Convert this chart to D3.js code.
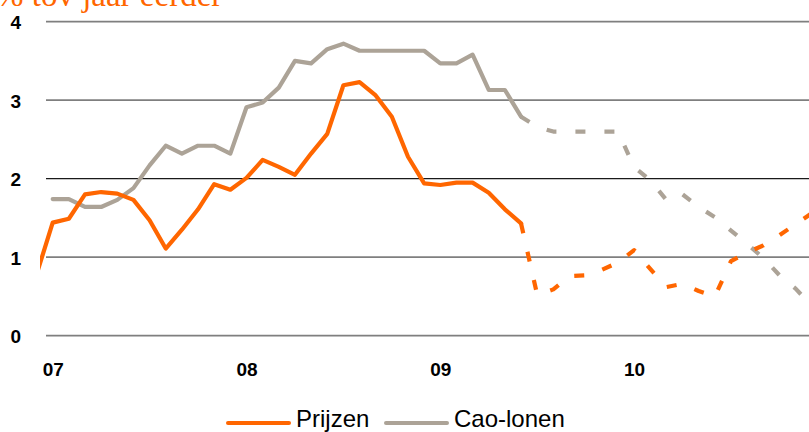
<!DOCTYPE html>
<html>
<head>
<meta charset="utf-8">
<script src="https://cdn.jsdelivr.net/npm/d3@7"></script>
<style>
  html, body { margin: 0; padding: 0; background: #fff; }
  svg { display: block; }
  .tick text { font-family: Arial, "Liberation Sans", sans-serif; font-weight: bold; fill: #000; }
</style>
</head>
<body>
<div id="chart"></div>
<script>
// months from dec 2006 (index 0) to dec 2010 (index 48)
var yearLabels = ['07', '08', '09', '10'];
var yearIndex = [1, 13, 25, 37];
var yTicks = [0, 1, 2, 3, 4];

// realisatie, dec 2006 t/m jun 2009
var prijzen = [0.78, 1.44, 1.49, 1.80, 1.83, 1.81, 1.73, 1.47, 1.11, 1.35, 1.61, 1.93, 1.86,
  2.01, 2.24, 2.15, 2.05, 2.32, 2.57, 3.19, 3.23, 3.06, 2.79, 2.28, 1.94,
  1.92, 1.95, 1.95, 1.82, 1.61, 1.43];
var caoLonen = [null, 1.74, 1.74, 1.64, 1.64, 1.73, 1.88, 2.17, 2.42, 2.32, 2.42, 2.42, 2.32,
  2.91, 2.97, 3.16, 3.50, 3.47, 3.65, 3.72, 3.63, 3.63, 3.63, 3.63, 3.63,
  3.47, 3.47, 3.58, 3.13, 3.13, 2.79];

// raming, jun 2009 t/m dec 2010
var forecastStart = 30;
var prijzenRaming = [1.43, 0.52, 0.59, 0.76, 0.77, 0.84, 0.93,
  1.09, 0.85, 0.62, 0.66, 0.57, 0.50, 0.95, 1.06, 1.15, 1.28, 1.42, 1.56];
var caoRaming = [2.79, 2.66, 2.60, 2.60, 2.60, 2.60, 2.60,
  2.15, 1.98, 1.73, 1.80, 1.64, 1.51, 1.34, 1.17, 0.99, 0.77, 0.60, 0.38];

var width = 809, height = 432;
var ORANGE = '#ff6600', GREY = '#aca397';

var svg = d3.select('#chart').append('svg')
  .attr('width', width)
  .attr('height', height);

var x = d3.scaleLinear().domain([1, 37]).range([52.7, 52.7 + 36 * 16.15]);
var y = d3.scaleLinear().domain([0, 4]).range([335.7, 21.7]);

svg.append('defs').append('clipPath').attr('id', 'plot')
  .append('rect').attr('x', 40).attr('y', 0).attr('width', width - 40).attr('height', height);

// titel (valt grotendeels buiten beeld)
svg.append('text')
  .attr('x', -4).attr('y', 6)
  .style('font-family', '"Liberation Serif", "Times New Roman", serif')
  .style('font-size', '33px')
  .style('fill', ORANGE)
  .text('% tov jaar eerder');

// gridlines
svg.selectAll('.grid').data(yTicks).enter().append('line')
  .attr('class', 'grid')
  .attr('x1', 46).attr('x2', width)
  .attr('y1', function(d) { return y(d); })
  .attr('y2', function(d) { return y(d); })
  .style('stroke', function(d) { return d == 2 ? '#1a1a1a' : '#7f7f7f'; })
  .style('stroke-width', function(d) { return d == 2 ? 1.2 : 1.7; });

var yAxis = svg.append('g')
  .attr('transform', 'translate(21,0)')
  .call(d3.axisLeft(y).tickValues(yTicks).tickSize(0).tickPadding(0).tickFormat(d3.format('d')));
yAxis.select('.domain').remove();
yAxis.selectAll('text').style('font-size', '19px').attr('dy', '0.36em');

var xAxis = svg.append('g')
  .attr('transform', 'translate(0,362)')
  .call(d3.axisBottom(x).tickValues(yearIndex).tickSize(0).tickPadding(0)
    .tickFormat(function(d, i) { return yearLabels[i]; }));
xAxis.select('.domain').remove();
xAxis.selectAll('text').style('font-size', '19px').attr('dy', '0.71em');

var line = d3.line()
  .defined(function(d) { return d.v != null; })
  .x(function(d) { return x(d.i); })
  .y(function(d) { return y(d.v); });

function points(values, start) {
  return values.map(function(v, k) { return { i: start + k, v: v }; });
}

var plot = svg.append('g').attr('clip-path', 'url(#plot)');

var series = [
  { values: caoRaming, start: forecastStart, color: GREY, dashed: true },
  { values: prijzenRaming, start: forecastStart, color: ORANGE, dashed: true },
  { values: caoLonen, start: 0, color: GREY, dashed: false },
  { values: prijzen, start: 0, color: ORANGE, dashed: false }
];

series.forEach(function(s) {
  plot.append('path')
    .datum(points(s.values, s.start))
    .attr('d', line)
    .style('fill', 'none')
    .style('stroke', s.color)
    .style('stroke-width', 4.2)
    .style('stroke-linejoin', 'round')
    .style('stroke-linecap', s.dashed ? 'butt' : 'round')
    .style('stroke-dasharray', s.dashed ? '10,19' : null);
});

// legenda
var legend = [
  { name: 'Prijzen', color: ORANGE, x: 228 },
  { name: 'Cao-lonen', color: GREY, x: 386 }
];
var lg = svg.selectAll('.legend').data(legend).enter().append('g')
  .attr('class', 'legend')
  .attr('transform', function(d) { return 'translate(' + d.x + ',423)'; });
lg.append('line')
  .attr('x1', 0).attr('x2', 61)
  .style('stroke', function(d) { return d.color; })
  .style('stroke-width', 4)
  .style('stroke-linecap', 'round');
lg.append('text')
  .attr('x', 68).attr('y', 4)
  .style('font-family', 'Arial, "Liberation Sans", sans-serif')
  .style('font-size', '24px')
  .style('fill', '#000')
  .text(function(d) { return d.name; });
</script>
</body>
</html>
